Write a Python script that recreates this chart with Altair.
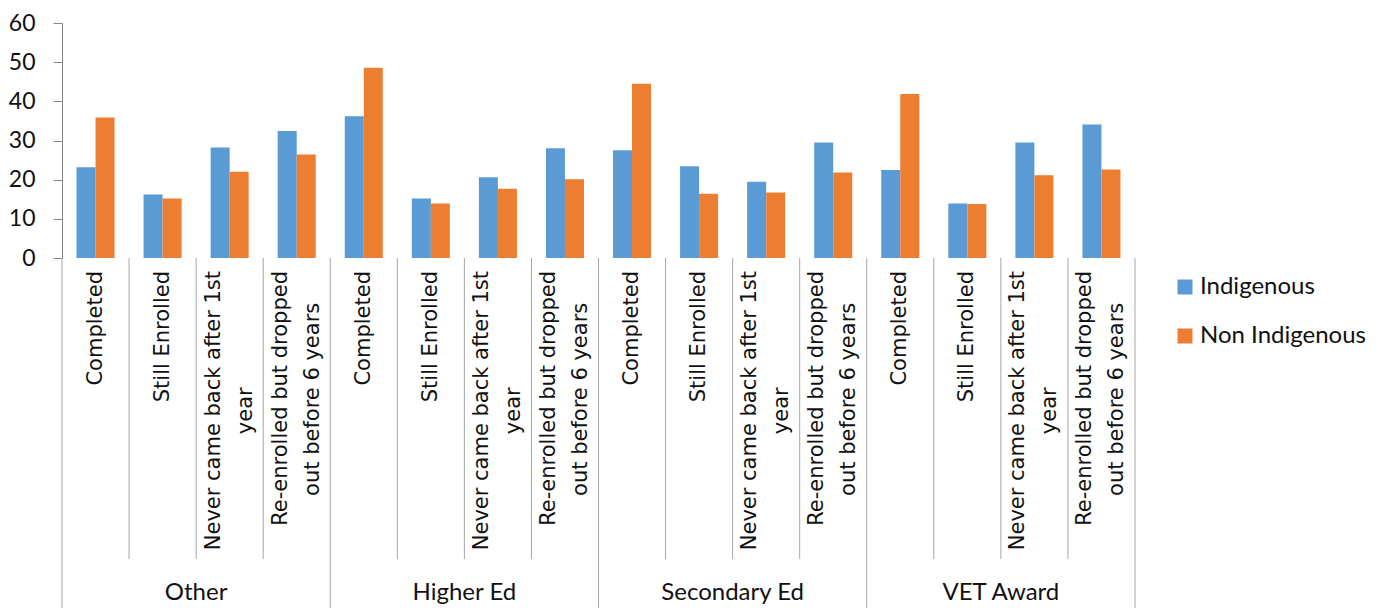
import altair as alt
import pandas as pd

# ---------------- data ----------------
groups = ["Other", "Higher Ed", "Secondary Ed", "VET Award"]
subcat_lines = [
    ["Completed"],
    ["Still Enrolled"],
    ["Never came back after 1st", "year"],
    ["Re-enrolled but dropped", "out before 6 years"],
]
series = ["Indigenous", "Non Indigenous"]
indigenous = [23.2, 16.2, 28.2, 32.4, 36.2, 15.2, 20.6, 28.0,
              27.5, 23.4, 19.5, 29.5, 22.5, 13.9, 29.5, 34.1]
non_indigenous = [35.9, 15.2, 22.0, 26.4, 48.6, 13.9, 17.7, 20.1,
                  44.5, 16.4, 16.7, 21.8, 41.9, 13.8, 21.1, 22.6]
colors = ["#5B9BD5", "#ED7D31"]

# ---------------- layout ----------------
W, H = 1073, 235
LABEL_FONT = 21
LABEL_TOP = H + 13
SUB_LINE_END = H + 301
GROUP_LINE_END = H + 350
GROUP_LABEL_Y = H + 335
SEP_COLOR = "#A6A6A6"
AXIS_COLOR = "#868686"
TEXT_COLOR = "#111111"

# approximate DejaVu Sans advance widths (em) to centre the 2nd line
_w = {" ": .318, "a": .613, "b": .635, "c": .550, "d": .635, "e": .615, "f": .352,
      "g": .635, "h": .634, "i": .278, "k": .579, "l": .278, "m": .974, "n": .634,
      "o": .612, "p": .635, "r": .411, "s": .521, "t": .392, "u": .634, "v": .592,
      "w": .818, "y": .592, "1": .636, "6": .636, "-": .361, "N": .748, "R": .695,
      "C": .698, "S": .635, "E": .632}


def text_len(s):
    return sum(_w.get(ch, .6) for ch in s) * LABEL_FONT


cats, bar_rows, cat_rows = [], [], []
for gi, g in enumerate(groups):
    for si, lines in enumerate(subcat_lines):
        idx = gi * 4 + si
        key = f"{g}|{' '.join(lines)}"
        cats.append(key)
        bar_rows.append(dict(cat=key, series=series[0], value=indigenous[idx]))
        bar_rows.append(dict(cat=key, series=series[1], value=non_indigenous[idx]))
        cat_rows.append(dict(
            cat=key, group=g, line1=lines[0],
            line2=lines[1] if len(lines) > 1 else "",
            nlines=len(lines), sub=si,
            line2_y=LABEL_TOP + text_len(lines[0]) / 2,
            last=(idx == len(groups) * 4 - 1),
        ))

bars_df = pd.DataFrame(bar_rows)
cat_df = pd.DataFrame(cat_rows)

xscale = alt.Scale(domain=cats, paddingInner=0, paddingOuter=0)


def X(band=0.5, axis=None):
    return alt.X("cat:N", sort=cats, scale=xscale, axis=axis, bandPosition=band)


bars = alt.Chart(bars_df).mark_bar().encode(
    x=alt.X("cat:N", sort=cats, scale=xscale, title=None,
            axis=alt.Axis(labels=False, ticks=False, title=None, grid=False,
                          domainColor=SEP_COLOR, domainWidth=1)),
    xOffset=alt.XOffset("series:N", sort=series,
                        scale=alt.Scale(domain=series, paddingInner=0, paddingOuter=0.763)),
    y=alt.Y("value:Q", title=None,
            scale=alt.Scale(domain=[0, 60], nice=False),
            axis=alt.Axis(values=[0, 10, 20, 30, 40, 50, 60], grid=False,
                          tickSize=9, labelPadding=18, labelFont="Lato",
                          labelFontSize=23, labelColor=TEXT_COLOR,
                          domainColor=AXIS_COLOR, tickColor=AXIS_COLOR)),
    color=alt.Color("series:N", sort=series,
                    scale=alt.Scale(domain=series, range=colors),
                    legend=alt.Legend(title=None, orient="none", legendX=1111, legendY=252,
                                      symbolType="square", symbolSize=225,
                                      symbolStrokeWidth=0, labelFont="Lato",
                                      labelFontSize=24, labelOffset=3, rowPadding=25,
                                      labelLimit=0, padding=0, labelColor=TEXT_COLOR)),
)

base = alt.Chart(cat_df)

sub_sep = base.transform_filter("datum.sub != 0").mark_rule(
    color=SEP_COLOR, strokeWidth=1).encode(
    x=X(0), y=alt.value(H), y2=alt.value(SUB_LINE_END))

grp_sep = base.transform_filter("datum.sub == 0").mark_rule(
    color=SEP_COLOR, strokeWidth=1).encode(
    x=X(0), y=alt.value(H), y2=alt.value(GROUP_LINE_END))

end_sep = base.transform_filter("datum.last").mark_rule(
    color=SEP_COLOR, strokeWidth=1).encode(
    x=X(1), y=alt.value(H), y2=alt.value(GROUP_LINE_END))

txt_kw = dict(angle=270, font="DejaVu Sans", fontSize=LABEL_FONT,
              color=TEXT_COLOR, baseline="middle")

single = base.transform_filter("datum.nlines == 1").mark_text(
    align="right", **txt_kw).encode(
    x=X(0.5), y=alt.value(LABEL_TOP), text="line1:N")

two_a = base.transform_filter("datum.nlines == 2").mark_text(
    align="right", **txt_kw).encode(
    x=X(0.5 - 16 / 67), y=alt.value(LABEL_TOP), text="line1:N")

two_b = base.transform_filter("datum.nlines == 2").mark_text(
    align="center", **txt_kw).encode(
    x=X(0.5 + 16 / 67), y=alt.Y("line2_y:Q", scale=None, axis=None), text="line2:N")

grp_lbl = base.transform_filter("datum.sub == 1").mark_text(
    align="center", baseline="middle", font="Lato", fontSize=24,
    color=TEXT_COLOR).encode(
    x=X(1), y=alt.value(GROUP_LABEL_Y), text="group:N")

chart = alt.layer(
    bars, sub_sep, grp_sep, end_sep, single, two_a, two_b, grp_lbl
).resolve_scale(y="independent").properties(
    width=W, height=H,
    autosize=alt.AutoSizeParams(type="none"),
    padding={"left": 54, "top": 15, "right": 242, "bottom": 350},
    background="white",
).configure_view(stroke=None)

chart.save("out.html", embed_options={"renderer": "svg", "actions": False})
